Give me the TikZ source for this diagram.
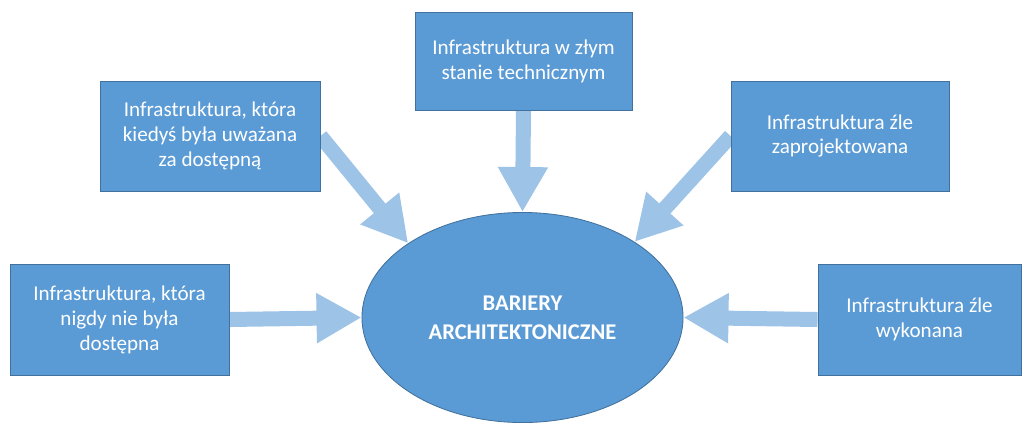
\documentclass[tikz,border=0pt]{standalone}
\usepackage{fontspec}
\setmainfont{Carlito}
\usepackage{tikz}
\usetikzlibrary{shapes.geometric,arrows.meta,backgrounds}

\definecolor{boxblue}{HTML}{5B9BD5}
\definecolor{boxline}{HTML}{41719C}
\definecolor{arrowblue}{HTML}{9DC3E6}

\begin{document}
\begin{tikzpicture}[x=0.025cm,y=-0.025cm,
  box/.style={rectangle,draw=boxline,fill=boxblue,line width=0.6pt,text=white,align=center,
    inner sep=0pt,font=\fontsize{15}{17.7}\selectfont},
  bariery/.style={ellipse,draw=boxline,fill=boxblue,line width=0.6pt,text=white,align=center,
    inner sep=0pt,minimum width=8.025cm,minimum height=5.25cm,font=\fontsize{16}{20.5}\selectfont\bfseries},
  strzalka/.style={draw=arrowblue,line width=0.375cm,-{Triangle[length=1.125cm,width=1.175cm]}}]
\useasboundingbox (0,0) rectangle (1026,423);
\node (kiedys) at (210,136) [box,minimum width=5.5cm,minimum height=2.75cm] {Infrastruktura, która\\kiedyś była uważana\\za dostępną};
\node (zlym) at (523.5,61) [box,minimum width=5.425cm,minimum height=2.45cm] {Infrastruktura w złym\\stanie technicznym};
\node (zaproj) at (840,136) [box,minimum width=5.45cm,minimum height=2.75cm] {Infrastruktura źle\\zaprojektowana};
\node (nigdy) at (119.5,319.5) [box,minimum width=5.475cm,minimum height=2.775cm] {Infrastruktura, która\\nigdy nie była\\dostępna};
\node (wykon) at (919.5,319.5) [box,minimum width=5.075cm,minimum height=2.775cm] {Infrastruktura źle\\wykonana};
\node (bar) at (522.5,317.5) [bariery] {BARIERY\\ARCHITEKTONICZNE};
% strzalki pod wezlami
\begin{pgfonlayer}{background}
\draw [strzalka] (kiedys.east) -- (bar.147);
\draw [strzalka] (zlym.south) -- (bar.north);
\draw [strzalka] (zaproj.west) -- (bar.34);
\draw [strzalka] (nigdy.east) -- (bar.west);
\draw [strzalka] (wykon.west) -- (bar.east);
\end{pgfonlayer}
\end{tikzpicture}
\end{document}
